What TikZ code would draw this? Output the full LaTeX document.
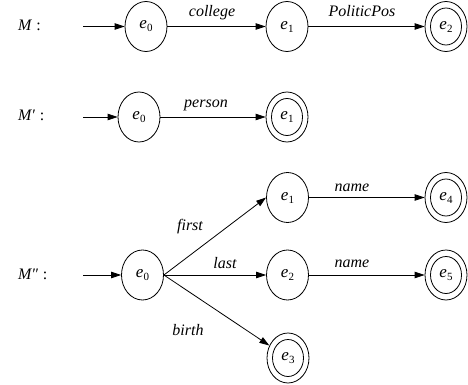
\documentclass[tikz,border=0pt]{standalone}
\usepackage{fontspec}
\setmainfont{Liberation Serif}
\usetikzlibrary{arrows.meta,shapes.geometric}
\newcommand\stlab[2]{\fontsize{17}{17}\selectfont\textit{#1}\raisebox{-3pt}{\fontsize{11}{11}\selectfont #2}}
\tikzset{
  statenode/.style={draw, ellipse, minimum width=42pt, minimum height=50pt, inner sep=0pt, line width=0.8pt},
  edgelab/.style={anchor=base, font=\fontsize{16}{16}\selectfont\itshape, inner sep=0pt},
  rowlab/.style={anchor=base west, font=\fontsize{16}{16}\selectfont, inner sep=0pt},
  trans/.style={line width=0.8pt, -{Triangle[length=10pt,width=6.5pt]}},
}
\begin{document}
\begin{tikzpicture}[x=1pt,y=-1pt]
\useasboundingbox (0,0) rectangle (468,385);
% M
\node[rowlab] (lM) at (18,31) {\textit{M} :};
\coordinate (iA) at (83,26.5);
\node[statenode] (a0) at (146,26.5) {\stlab{e}{0}};
\node[statenode] (a1) at (287,26.5) {\stlab{e}{1}};
\node[statenode] (a2) at (446,26.5) {\stlab{e}{2}};
\draw[line width=0.8pt] (a2.center) ellipse (15.5 and 18.5);
\draw[trans] (iA) -- (a0);
\draw[trans] (a0) -- (a1);
\draw[trans] (a1) -- (a2);
\node[edgelab] (tA1) at (212,17) {college};
\node[edgelab] (tA2) at (362,17) {PoliticPos};
% M'
\node[rowlab] (lMp) at (18,121) {\textit{M}′ :};
\coordinate (iB) at (83,117);
\node[statenode] (b0) at (139,117) {\stlab{e}{0}};
\node[statenode] (b1) at (287,117) {\stlab{e}{1}};
\draw[line width=0.8pt] (b1.center) ellipse (15.5 and 18.5);
\draw[trans] (iB) -- (b0);
\draw[trans] (b0) -- (b1);
\node[edgelab] (tB1) at (206,107) {person};
% M''
\node[rowlab] (lMpp) at (18,279) {\textit{M}″ :};
\coordinate (iC) at (83,275);
\node[statenode] (c0) at (142.5,275) {\stlab{e}{0}};
\node[statenode] (c1) at (287.5,197.5) {\stlab{e}{1}};
\node[statenode] (c2) at (287.5,275) {\stlab{e}{2}};
\node[statenode] (c3) at (288,358) {\stlab{e}{3}};
\node[statenode] (c4) at (446,197.5) {\stlab{e}{4}};
\node[statenode] (c5) at (446,275) {\stlab{e}{5}};
\draw[line width=0.8pt] (c3.center) ellipse (15.5 and 18.5);
\draw[line width=0.8pt] (c4.center) ellipse (15.5 and 18.5);
\draw[line width=0.8pt] (c5.center) ellipse (15.5 and 18.5);
\draw[trans] (iC) -- (c0);
\draw[trans] (c0.east) -- (c1.west);
\draw[trans] (c0.east) -- (c2);
\draw[trans] (c0.east) -- (c3);
\draw[trans] (c1) -- (c4);
\draw[trans] (c2) -- (c5);
\node[edgelab] (tC1) at (190,230) {first};
\node[edgelab] (tC2) at (225,268) {last};
\node[edgelab] (tC3) at (188,335) {birth};
\node[edgelab] (tC4) at (352,191) {name};
\node[edgelab] (tC5) at (352,267) {name};
\end{tikzpicture}
\end{document}
